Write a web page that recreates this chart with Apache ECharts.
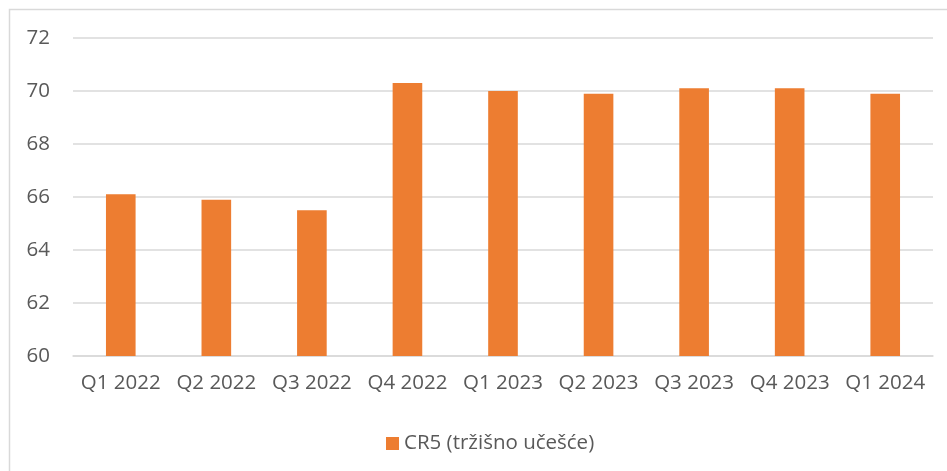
<!DOCTYPE html>
<html lang="sr">
<head>
  <meta charset="UTF-8">
  <title>CR5</title>
  <script src="https://cdn.jsdelivr.net/npm/echarts@6/dist/echarts.min.js"></script>
  <style>
    html, body { margin: 0; padding: 0; background: #fff; }
    #chart { width: 947px; height: 471px; }
  </style>
</head>
<body>
<div id="chart"></div>
<script>
  // kvartali i vrijednosti CR5
  const quarters = ['Q1 2022', 'Q2 2022', 'Q3 2022', 'Q4 2022', 'Q1 2023', 'Q2 2023', 'Q3 2023', 'Q4 2023', 'Q1 2024'];
  const cr5 = [66.1, 65.9, 65.5, 70.3, 70.0, 69.9, 70.1, 70.1, 69.9];
  const seriesName = 'CR5 (tržišno učešće)';

  const font = '"Open Sans", "Noto Sans", sans-serif';
  const myChart = echarts.init(document.getElementById('chart'));

  const option = {
    animation: false,
    backgroundColor: '#fff',
    textStyle: { fontFamily: font },
    graphic: [{
      type: 'rect',
      shape: { x: 9.5, y: 9.5, width: 1000, height: 1000 },
      style: { fill: 'none', stroke: '#d9d9d9', lineWidth: 1.5 },
      silent: true
    }],
    legend: {
      data: [seriesName],
      top: 428,
      left: 381,
      icon: 'rect',
      itemWidth: 13,
      itemHeight: 13,
      itemGap: 6,
      textStyle: { fontSize: 20.5, color: '#595959', fontFamily: font }
    },
    grid: { left: 73, right: 14, top: 38, bottom: 115 },
    xAxis: {
      type: 'category',
      data: quarters,
      axisLine: { lineStyle: { color: '#d9d9d9', width: 1.5 } },
      axisTick: { show: false },
      axisLabel: { fontSize: 20.5, color: '#595959', margin: 17, interval: 0 }
    },
    yAxis: {
      type: 'value',
      min: 60,
      max: 72,
      interval: 2,
      axisLine: { show: false },
      axisTick: { show: false },
      axisLabel: { fontSize: 20.5, color: '#595959', margin: 23 },
      splitLine: { lineStyle: { color: '#d9d9d9', width: 1.5 } }
    },
    series: [{
      name: seriesName,
      type: 'bar',
      data: cr5,
      barWidth: '31%',
      itemStyle: { color: '#ED7D31' }
    }]
  };

  myChart.setOption(option);
</script>
</body>
</html>
